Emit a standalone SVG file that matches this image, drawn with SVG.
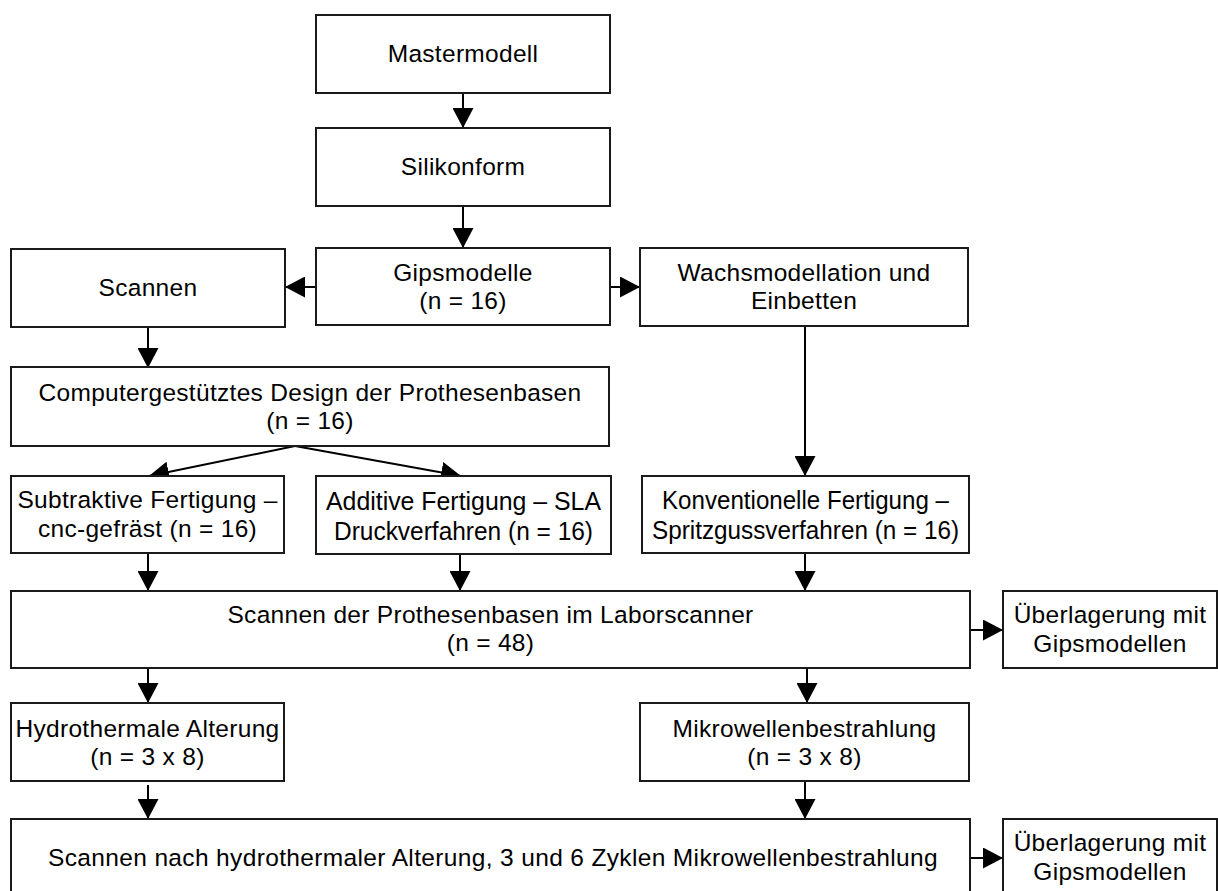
<svg xmlns="http://www.w3.org/2000/svg" width="1218" height="891" viewBox="0 0 1218 891">
<defs>
<marker id="arr" markerUnits="userSpaceOnUse" markerWidth="21" markerHeight="21" refX="20" refY="10.5" orient="auto">
<path d="M0,0 L20,10.5 L0,21 z" fill="#000"/>
</marker>
<style>
.box{fill:#fff;stroke:#1a1a1a;stroke-width:2}
.t{font-family:"Liberation Sans",Arial,sans-serif;font-size:24.5px;letter-spacing:0.3px;fill:#000;text-anchor:middle}
.n{font-family:"Liberation Sans",Arial,sans-serif;font-size:26.5px;fill:#000;text-anchor:middle}
.c{stroke:#000;stroke-width:2;fill:none;marker-end:url(#arr)}
</style>
</defs>
<rect width="1218" height="891" fill="#fff"/>
<g id="connectors">
<line class="c" x1="463" y1="93" x2="463" y2="128"/>
<line class="c" x1="463" y1="206" x2="463" y2="248"/>
<line class="c" x1="316" y1="287" x2="285" y2="287"/>
<line class="c" x1="610" y1="287" x2="640" y2="287"/>
<line class="c" x1="148" y1="327" x2="148" y2="368"/>
<line class="c" x1="295" y1="446" x2="149" y2="476"/>
<line class="c" x1="295" y1="446" x2="461" y2="476"/>
<line class="c" x1="805" y1="326" x2="805" y2="476"/>
<line class="c" x1="148" y1="553" x2="148" y2="591"/>
<line class="c" x1="460" y1="554" x2="460" y2="591"/>
<line class="c" x1="805" y1="553" x2="805" y2="591"/>
<line class="c" x1="970" y1="630" x2="1003" y2="630"/>
<line class="c" x1="148" y1="668" x2="148" y2="703"/>
<line class="c" x1="807" y1="668" x2="807" y2="703"/>
<line class="c" x1="148" y1="785" x2="148" y2="819"/>
<line class="c" x1="805" y1="781" x2="805" y2="819"/>
<line class="c" x1="970" y1="858" x2="1003" y2="858"/>
</g>
<g id="mastermodell">
<rect class="box" x="316" y="15" width="294" height="78"/>
<text class="t" x="463" y="62">Mastermodell</text>
</g>
<g id="silikonform">
<rect class="box" x="316" y="128" width="294" height="78"/>
<text class="t" x="463" y="175">Silikonform</text>
</g>
<g id="gipsmodelle">
<rect class="box" x="316" y="248" width="294" height="77"/>
<text class="t" x="463" y="281">Gipsmodelle</text>
<text class="t" x="463" y="309">(n = 16)</text>
</g>
<g id="scannen">
<rect class="box" x="11" y="249" width="274" height="78"/>
<text class="t" x="148" y="296">Scannen</text>
</g>
<g id="wachsmodellation">
<rect class="box" x="640" y="248" width="328" height="78"/>
<text class="t" x="804" y="281">Wachsmodellation und</text>
<text class="t" x="804" y="309">Einbetten</text>
</g>
<g id="design">
<rect class="box" x="11" y="367" width="598" height="79"/>
<text class="t" x="310" y="401">Computergestütztes Design der Prothesenbasen</text>
<text class="t" x="310" y="429">(n = 16)</text>
</g>
<g id="subtraktiv">
<rect class="box" x="11" y="476" width="273" height="77"/>
<text class="t" x="147.5" y="508">Subtraktive Fertigung –</text>
<text class="t" x="147.5" y="537">cnc-gefräst (n = 16)</text>
</g>
<g id="additiv">
<rect class="box" x="316" y="476" width="295" height="78"/>
<text class="n" x="463.5" y="510" textLength="275" lengthAdjust="spacingAndGlyphs">Additive Fertigung – SLA</text>
<text class="n" x="463.5" y="540" textLength="259" lengthAdjust="spacingAndGlyphs">Druckverfahren (n = 16)</text>
</g>
<g id="konventionell">
<rect class="box" x="642" y="476" width="327" height="77"/>
<text class="n" x="805.5" y="509" textLength="287" lengthAdjust="spacingAndGlyphs">Konventionelle Fertigung –</text>
<text class="n" x="805.5" y="539" textLength="307" lengthAdjust="spacingAndGlyphs">Spritzgussverfahren (n = 16)</text>
</g>
<g id="scan-labor">
<rect class="box" x="11" y="591" width="959" height="77"/>
<text class="t" x="490.5" y="623">Scannen der Prothesenbasen im Laborscanner</text>
<text class="t" x="490.5" y="651">(n = 48)</text>
</g>
<g id="ueberlagerung1">
<rect class="box" x="1003" y="591" width="214" height="77"/>
<text class="t" x="1110" y="623">Überlagerung mit</text>
<text class="t" x="1110" y="652">Gipsmodellen</text>
</g>
<g id="hydrothermal">
<rect class="box" x="11" y="703" width="273" height="78"/>
<text class="t" x="147.5" y="737">Hydrothermale Alterung</text>
<text class="t" x="147.5" y="765">(n = 3 x 8)</text>
</g>
<g id="mikrowellen">
<rect class="box" x="640" y="703" width="329" height="78"/>
<text class="t" x="804.5" y="737">Mikrowellenbestrahlung</text>
<text class="t" x="804.5" y="765">(n = 3 x 8)</text>
</g>
<g id="scan-final">
<rect class="box" x="11" y="819" width="959" height="78"/>
<text class="t" x="493" y="866" textLength="890" lengthAdjust="spacing">Scannen nach hydrothermaler Alterung, 3 und 6 Zyklen Mikrowellenbestrahlung</text>
</g>
<g id="ueberlagerung2">
<rect class="box" x="1003" y="819" width="214" height="78"/>
<text class="t" x="1110" y="851">Überlagerung mit</text>
<text class="t" x="1110" y="880">Gipsmodellen</text>
</g>
</svg>
